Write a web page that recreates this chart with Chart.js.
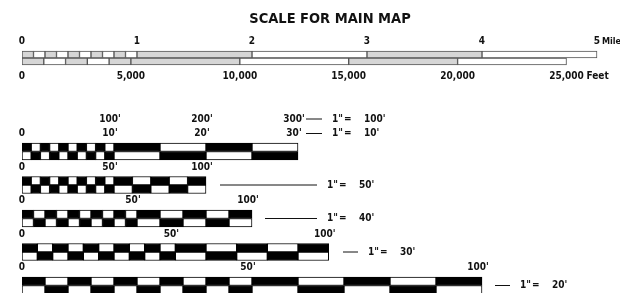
<!DOCTYPE html>
<html>
<head>
<meta charset="utf-8">
<script src="https://cdn.jsdelivr.net/npm/chart.js@4/dist/chart.umd.min.js"></script>
<style>
  html, body { margin: 0; padding: 0; background: #fff; }
  #wrap { width: 620px; height: 293px; }
</style>
</head>
<body>
<div id="wrap"><canvas id="scales" width="620" height="293"></canvas></div>
<script>
// main map scale (1" = 4224 ft, i.e. 0.8 mile)
var mapFeetPerInch = 4224;
var mileTicks = [0, 1, 2, 3, 4, 5];
var mileLabels = ['0', '1', '2', '3', '4', '5'];
var feetTicks = [0, 5000, 10000, 15000, 20000, 25000];
var feetLabels = ['0', '5,000', '10,000', '15,000', '20,000', '25,000'];
var mileFine = 10;   // parts in the first mile
var feetFine = 5;    // parts in the first 5,000 ft

// engineer scales, 1" = n feet
var scaleRatios = [10, 50, 40, 30, 20];
var scaleTicks = [[0, 10, 20, 30], [0, 50, 100], [0, 50, 100], [0, 50, 100], [0, 50, 100]];
var fineParts = [10, 10, 10, 10, 10];
var coarseStep = [5, 10, 10, 10, 10];
// second reading on the first bar, 1" = 100'
var altRatio = 100;
var altTicks = [100, 200, 300];

var FONT = "'Liberation Sans Narrow', 'DejaVu Sans Condensed', 'Liberation Sans', sans-serif";

// page layout (pixels)
var layout = {
    mapRows: [54.5, 61.5], mapRowH: 7,
    mileY: 41.5, feetY: 76,
    barY: [151.5, 185, 218.5, 252, 285.5], rowH: 8.5,
    // annotation dash start/end for each bar, in px
    dash: [[306, 322], [220, 317], [265, 317], [343, 358], [495, 510]]
};

function split(from, to, parts) {
    var out = [], step = (to - from) / parts;
    for (var k = 0; k < parts; k++) out.push([from + k * step, from + (k + 1) * step]);
    return out;
}

var blackData = [], whiteData = [];
scaleRatios.forEach(function (r, i) {
    var t = scaleTicks[i], last = t[t.length - 1];
    var parts = split(t[0], t[1], fineParts[i]).concat(split(t[1], last, (last - t[1]) / coarseStep[i]));
    parts.forEach(function (p, k) {
        var xr = [p[0] / r, p[1] / r];
        var topBlack = k % 2 === 0;
        (topBlack ? blackData : whiteData).push({x: xr, y: layout.barY[i] - layout.rowH / 2});
        (topBlack ? whiteData : blackData).push({x: xr, y: layout.barY[i] + layout.rowH / 2});
    });
});

var mapShade = [], mapPlain = [];
function mapRow(ticks, fine, toInch, y) {
    var last = ticks[ticks.length - 1];
    split(ticks[0], ticks[1], fine).forEach(function (p, k) {
        (k % 2 === 0 ? mapShade : mapPlain).push({x: [toInch(p[0]), toInch(p[1])], y: y});
    });
    split(ticks[1], last, ticks.length - 2).forEach(function (p, k) {
        (k % 2 === 0 ? mapShade : mapPlain).push({x: [toInch(p[0]), toInch(p[1])], y: y});
    });
}
mapRow(mileTicks, mileFine, function (m) { return m * 5280 / mapFeetPerInch; }, layout.mapRows[0]);
mapRow(feetTicks, feetFine, function (f) { return f / mapFeetPerInch; }, layout.mapRows[1]);

var labelPlugin = {
    id: 'scaleLabels',
    afterDatasetsDraw: function (chart) {
        var ctx = chart.ctx, xs = chart.scales.x;
        ctx.save();
        ctx.fillStyle = '#111';
        ctx.strokeStyle = '#111';
        ctx.lineWidth = 1;
        ctx.textBaseline = 'middle';

        ctx.font = 'bold 14.5px ' + FONT;
        ctx.textAlign = 'center';
        ctx.fillText('SCALE FOR MAIN MAP', 330, 19);

        ctx.font = 'bold 10px ' + FONT;
        mileTicks.forEach(function (m, i) {
            var px = xs.getPixelForValue(m * 5280 / mapFeetPerInch);
            ctx.textAlign = 'center';
            ctx.fillText(mileLabels[i], px, layout.mileY);
        });
        ctx.font = 'bold 9px ' + FONT;
        ctx.textAlign = 'left';
        ctx.fillText('Mile', xs.getPixelForValue(5 * 5280 / mapFeetPerInch) + 5, layout.mileY);
        ctx.font = 'bold 10px ' + FONT;
        feetTicks.forEach(function (f, i) {
            ctx.textAlign = 'center';
            ctx.fillText(feetLabels[i], xs.getPixelForValue(f / mapFeetPerInch), layout.feetY);
        });
        ctx.textAlign = 'left';
        ctx.fillText('Feet', xs.getPixelForValue(25000 / mapFeetPerInch) + 20, layout.feetY);

        scaleRatios.forEach(function (r, i) {
            var y = layout.barY[i], ly = y - 18;
            ctx.textAlign = 'center';
            scaleTicks[i].forEach(function (t) {
                var px = xs.getPixelForValue(t / r);
                ctx.fillText(t === 0 ? '0' : t + "'", t === 0 ? px : px - 4, ly);
            });
            var d = layout.dash[i];
            var rows = [{y: i === 0 ? ly : y, v: r}];
            if (i === 0) {
                altTicks.forEach(function (t) {
                    ctx.fillText(t + "'", xs.getPixelForValue(t / altRatio) - 4, y - 32.5);
                });
                rows.push({y: y - 32.5, v: altRatio});
            }
            rows.forEach(function (row) {
                ctx.beginPath();
                ctx.moveTo(d[0], row.y);
                ctx.lineTo(d[1], row.y);
                ctx.stroke();
                ctx.textAlign = 'left';
                ctx.fillText('1"', d[1] + 10, row.y);
                ctx.fillText('=', d[1] + 22, row.y);
                ctx.fillText(row.v + "'", d[1] + 42, row.y);
            });
        });
        ctx.restore();
    }
};

var ctx = document.getElementById('scales').getContext('2d');
var chart = new Chart(ctx, {
    type: 'bar',
    data: {
        datasets: [
            {label: 'map shaded', data: mapShade, backgroundColor: '#d6d6d6', borderColor: '#555', barThickness: layout.mapRowH},
            {label: 'map plain', data: mapPlain, backgroundColor: '#fff', borderColor: '#555', barThickness: layout.mapRowH},
            {label: 'white', data: whiteData, backgroundColor: '#fff', borderColor: '#000', barThickness: layout.rowH},
            {label: 'black', data: blackData, backgroundColor: '#000', borderColor: '#000', barThickness: layout.rowH}
        ]
    },
    options: {
        responsive: false,
        animation: false,
        indexAxis: 'y',
        layout: {padding: {left: 22, right: 0, top: 0, bottom: 0}},
        datasets: {bar: {grouped: false, borderWidth: 1, borderSkipped: false}},
        scales: {
            x: {type: 'linear', min: 0, max: 6.5, display: false},
            y: {type: 'linear', min: 0, max: 293, reverse: true, offset: false, display: false}
        },
        plugins: {legend: {display: false}, tooltip: {enabled: false}, title: {display: false}}
    },
    plugins: [labelPlugin]
});
</script>
</body>
</html>
